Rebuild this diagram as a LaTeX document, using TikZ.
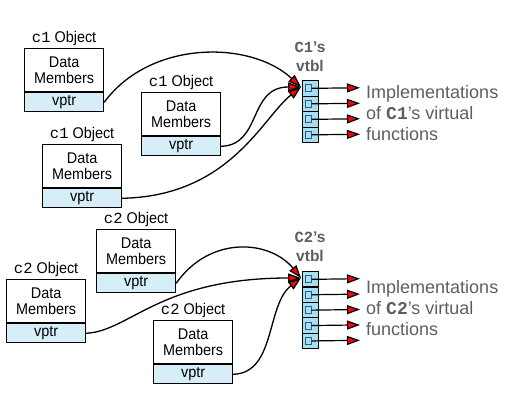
\documentclass[tikz,border=0pt]{standalone}
\usepackage{fontspec}
\setmainfont{Liberation Sans}
\newfontfamily\boxfont[FakeStretch=0.93]{Liberation Sans}
\newfontfamily\codefont{Liberation Mono}
\usetikzlibrary{arrows.meta}
\definecolor{vptrblue}{HTML}{D6EEF8}
\definecolor{slotblue}{HTML}{A9DDF0}
\definecolor{slotdark}{HTML}{2A5F86}
\definecolor{txtgray}{HTML}{5E5E5E}
\tikzset{
  datapart/.style={draw, line width=1.2pt, minimum width=79pt, minimum height=43pt,
    inner sep=0pt, align=center, anchor=north west,
    font=\boxfont\fontsize{15.5}{15.5}\selectfont},
  vptrpart/.style={draw, line width=1.2pt, fill=vptrblue, minimum width=79pt,
    minimum height=19pt, inner sep=0pt, anchor=north,
    font=\boxfont\fontsize{15.5}{15.5}\selectfont},
  objlabel/.style={anchor=south, inner sep=0pt, yshift=2pt,
    font=\boxfont\fontsize{15.5}{15.5}\selectfont},
  slot/.style={draw, line width=1.2pt, fill=slotblue, minimum width=16pt,
    minimum height=15.5pt, inner sep=0pt, anchor=north west},
  inner/.style={draw=slotdark, line width=0.8pt},
  tip/.style={line width=1.2pt, -{Triangle[length=13pt,width=9pt,fill=red]}},
  link/.style={line width=1.3pt, -{Triangle[length=13pt,width=9pt,fill=red]}},
  vlabel/.style={anchor=south, inner sep=0pt, align=center, text=txtgray,
    font=\bfseries\fontsize{15.5}{19}\selectfont},
  impl/.style={anchor=north west, inner sep=0pt, align=left, text=txtgray,
    font=\fontsize{18}{21}\selectfont},
}
\newcommand\objbox[4]{%
  \node[datapart] (#1d) at (#2,#3) {Data\\Members};
  \node[vptrpart] (#1v) at (#1d.south) {vptr};
  \node[objlabel] (#1l) at (#1d.north) {{\codefont #4} Object};
}
\begin{document}
\begin{tikzpicture}[x=1pt,y=-1pt]
\useasboundingbox (0,0) rectangle (508,415);
% ---------- top group ----------
\objbox{A}{24}{48}{c1}
\objbox{B}{141}{92}{c1}
\objbox{C}{42}{144}{c1}
\foreach \i in {0,...,3}{
  \node[slot] (t\i) at (302,{80+15.5*\i}) {};
  \draw[inner] ([xshift=-5pt,yshift=3.5pt]t\i.center) rectangle ([xshift=1pt,yshift=-3.5pt]t\i.center);
  \coordinate (to\i) at (360,{87.75+15.5*\i});
  \draw[tip] ([xshift=1pt]t\i.center) -- (to\i);
}
\coordinate (tin) at (301,87);
\node[vlabel] (tl) at (310,72) {{\codefont C1}’s\\vtbl};
\node[impl] (ti) at (366,85.5) {Implementations\\of {\codefont\bfseries C1}’s virtual\\functions};
\draw[link] (Av.east) .. controls (150,40) and (250,40) .. (tin);
\draw[link] (Bv.east) .. controls (262,145) and (248,87) .. (tin);
\draw[link] (Cv.east) .. controls (230,196) and (262,118) .. (tin);
% ---------- bottom group ----------
\objbox{D}{96}{229}{c2}
\objbox{E}{6}{279}{c2}
\objbox{F}{153}{320}{c2}
\foreach \i in {0,...,4}{
  \node[slot] (b\i) at (302,{271+15.4*\i}) {};
  \draw[inner] ([xshift=-5pt,yshift=3.5pt]b\i.center) rectangle ([xshift=1pt,yshift=-3.5pt]b\i.center);
  \coordinate (bo\i) at (360,{278.7+15.4*\i});
  \draw[tip] ([xshift=1pt]b\i.center) -- (bo\i);
}
\coordinate (bin) at (301,278);
\node[vlabel] (bl) at (310,262) {{\codefont C2}’s\\vtbl};
\node[impl] (bi) at (366,280.5) {Implementations\\of {\codefont\bfseries C2}’s virtual\\functions};
\draw[link] (Dv.east) .. controls (210,235) and (270,240) .. (bin);
\draw[link] (Ev.east) .. controls (130,331) and (160,278) .. (bin);
\draw[link] (Fv.east) .. controls (276,373) and (266,305) .. (bin);
\end{tikzpicture}
\end{document}
